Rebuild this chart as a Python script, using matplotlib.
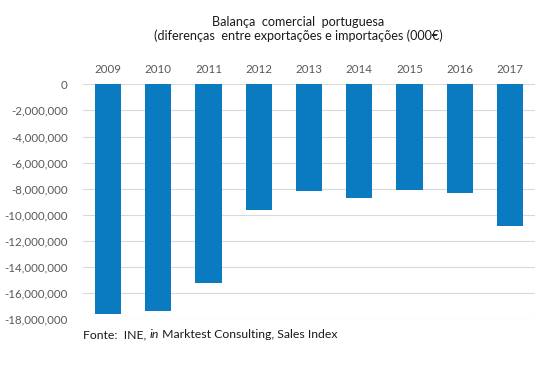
import matplotlib
matplotlib.use("Agg")
import matplotlib.pyplot as plt
from matplotlib.ticker import FuncFormatter

plt.rcParams['font.family'] = ['Lato', 'DejaVu Sans']

# dados (000 euros)
anos = ['2009', '2010', '2011', '2012', '2013', '2014', '2015', '2016', '2017']
saldo = [-17570000, -17370000, -15200000, -9630000, -8170000, -8710000,
         -8100000, -8330000, -10860000]
ticks_y = [0, -2000000, -4000000, -6000000, -8000000, -10000000,
           -12000000, -14000000, -16000000, -18000000]

cor_barra = '#0a7bc0'
cor_texto = '#595959'

fig = plt.figure(figsize=(5.51, 3.72), dpi=100)
ax = fig.add_axes([0.1506, 0.1417, 0.8204, 0.6317])

x = range(len(anos))
ax.bar(x, saldo, width=0.52, color=cor_barra, zorder=3)

ax.set_xlim(-0.5, 8.5)
ax.set_ylim(-18000000, 0)
ax.set_yticks(ticks_y)
ax.yaxis.set_major_formatter(FuncFormatter(lambda v, p: f"{v:,.0f}"))
ax.grid(axis='y', color='#d9d9d9', linewidth=0.8, zorder=0)

ax.set_xticks(list(x))
ax.set_xticklabels(anos)
ax.xaxis.tick_top()
ax.tick_params(axis='x', length=0, pad=7, labelsize=8.3, colors=cor_texto)
ax.tick_params(axis='y', length=0, pad=11, labelsize=8.3, colors=cor_texto)
for s in ax.spines.values():
    s.set_visible(False)

fig.text(0.541, 0.941, 'Balança  comercial  portuguesa', ha='center', va='center',
         fontsize=9.1, color='#1a1a1a')
fig.text(0.541, 0.903, '(diferenças  entre exportações e importações (000€)', ha='center',
         va='center', fontsize=9.1, color='#1a1a1a')

# rodape
t = fig.text(0.151, 0.0995, 'Fonte:  INE, ', ha='left', va='center', fontsize=8.8, color='#1a1a1a')
fig.canvas.draw()
bb = t.get_window_extent().transformed(fig.transFigure.inverted())
t2 = fig.text(bb.x1, 0.0995, 'in', ha='left', va='center', fontsize=8.8,
              color='#1a1a1a', style='italic')
fig.canvas.draw()
bb2 = t2.get_window_extent().transformed(fig.transFigure.inverted())
fig.text(bb2.x1, 0.0995, ' Marktest Consulting, Sales Index', ha='left', va='center',
         fontsize=8.8, color='#1a1a1a')

fig.savefig('out.png', dpi=100)
